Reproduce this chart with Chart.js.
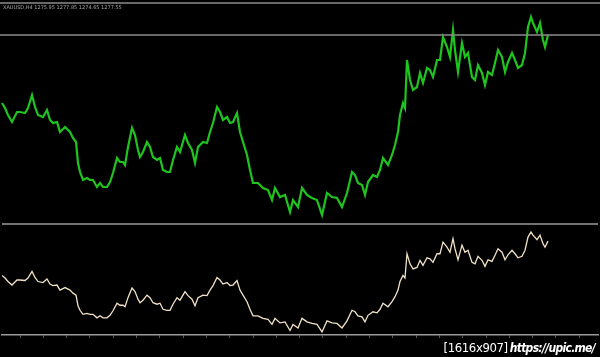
<!DOCTYPE html>
<html>
<head>
<meta charset="utf-8">
<script src="https://cdn.jsdelivr.net/npm/chart.js@4/dist/chart.umd.min.js"></script>
<style>
  html, body { margin: 0; padding: 0; background: #000; }
  #wrap { position: relative; width: 600px; height: 357px; background: #000; overflow: hidden; }
  #top { position: absolute; left: 0; top: 0; }
  #bottom { position: absolute; left: 0; top: 222px; }
  .hdr { position: absolute; left: 3px; top: 4px; font: 5px "DejaVu Sans", sans-serif; color: #a8a8a8; white-space: nowrap; }
  .mark { position: absolute; right: 4px; bottom: 2px; background: #000; color: #fff; padding: 0 1px; white-space: nowrap; line-height: 15px; }
  .mark .a { font: 13px "DejaVu Sans Condensed", "DejaVu Sans", sans-serif; letter-spacing: -0.4px; }
  .mark .b { font: italic bold 12px "DejaVu Sans Condensed", "DejaVu Sans", sans-serif; letter-spacing: -0.7px; margin-left: 2px; }
</style>
</head>
<body>
<div id="wrap">
  <canvas id="top" width="600" height="224"></canvas>
  <canvas id="bottom" width="600" height="135"></canvas>
  <div class="hdr">XAUUSD,H4 1275.95 1277.85 1274.65 1277.55</div>
  <div class="mark"><span class="a">[1616x907]</span><span class="b">https://upic.me/</span></div>
</div>
<script>
// bar number (time axis) and closing price
const barNo = [2, 5, 8, 12, 17, 20, 25, 28, 32, 35, 38, 43, 47, 50, 53, 57, 60, 65, 70, 73, 76, 78, 80, 83, 87, 90, 93, 97, 100, 103,
  107, 110, 113, 117, 120, 123, 125, 128, 132, 135, 138, 140, 143, 147, 150, 153, 157, 160, 163, 167, 170, 173, 177, 180, 185, 188, 192, 195, 198, 203,
  207, 210, 213, 217, 220, 223, 227, 230, 233, 237, 240, 243, 247, 250, 253, 258, 263, 268, 272, 275, 280, 285, 290, 293, 298, 302, 307, 312, 317, 322,
  327, 332, 337, 342, 347, 352, 355, 358, 362, 365, 368, 373, 377, 380, 383, 388, 392, 395, 398, 400, 403, 405, 407, 410, 413, 417, 420, 423, 427, 430,
  433, 437, 440, 443, 447, 450, 453, 455, 458, 462, 465, 468, 472, 475, 478, 482, 485, 488, 492, 495, 498, 502, 505, 508, 512, 515, 518, 522, 525, 528,
  531, 533, 537, 540, 543, 545, 548];
const closes = [1297, 1292, 1285, 1278, 1288, 1288, 1287, 1292, 1305, 1293, 1285, 1283, 1290, 1280, 1277, 1278, 1268, 1273, 1268, 1262, 1258, 1237, 1228, 1220, 1222, 1220, 1220, 1213, 1217, 1213,
  1213, 1218, 1227, 1242, 1238, 1238, 1235, 1253, 1272, 1265, 1250, 1243, 1248, 1258, 1253, 1243, 1240, 1242, 1230, 1228, 1228, 1240, 1253, 1248, 1265, 1257, 1250, 1237, 1253, 1258,
  1257, 1268, 1277, 1293, 1288, 1280, 1283, 1277, 1278, 1287, 1268, 1258, 1245, 1230, 1217, 1217, 1212, 1210, 1200, 1212, 1203, 1205, 1188, 1200, 1193, 1212, 1205, 1202, 1200, 1185,
  1207, 1203, 1202, 1193, 1207, 1228, 1225, 1217, 1215, 1205, 1218, 1225, 1223, 1230, 1242, 1235, 1245, 1255, 1268, 1285, 1297, 1292, 1340, 1320, 1310, 1313, 1327, 1317, 1332, 1330,
  1323, 1340, 1340, 1363, 1353, 1343, 1370, 1350, 1328, 1357, 1343, 1347, 1323, 1320, 1335, 1327, 1315, 1328, 1325, 1337, 1350, 1343, 1328, 1338, 1347, 1340, 1332, 1335, 1347, 1373,
  1383, 1377, 1368, 1377, 1360, 1353, 1365];
const levelPrice = 1365;

const points = barNo.map((b, i) => ({ x: b, y: closes[i] }));

const topLines = {
  id: 'topLines',
  afterDraw(chart) {
    const c = chart.ctx, a = chart.chartArea;
    const yl = chart.scales.y.getPixelForValue(levelPrice);
    c.save();
    c.strokeStyle = '#8c8c8c';
    c.lineWidth = 1.5;
    c.beginPath();
    c.moveTo(0, a.top); c.lineTo(chart.width, a.top);
    c.moveTo(0, yl); c.lineTo(chart.width, yl);
    c.stroke();
    c.restore();
  }
};

const bottomLines = {
  id: 'bottomLines',
  afterDraw(chart) {
    const c = chart.ctx, a = chart.chartArea;
    c.save();
    c.strokeStyle = '#9a9a9a';
    c.lineWidth = 1.5;
    c.beginPath();
    c.moveTo(a.left, a.top); c.lineTo(a.right, a.top);
    c.stroke();
    c.restore();
  }
};

new Chart(document.getElementById('top'), {
  type: 'line',
  data: {
    datasets: [{
      data: points,
      borderColor: '#1fc41f',
      borderWidth: 2.2,
      pointRadius: 0,
      tension: 0
    }]
  },
  options: {
    responsive: false,
    animation: false,
    layout: { padding: { top: 3, bottom: 2, left: 0, right: 0 } },
    plugins: { legend: { display: false }, tooltip: { enabled: false } },
    scales: {
      x: { type: 'linear', min: 0, max: 600, display: false },
      y: { min: 1178, max: 1397, display: false }
    }
  },
  plugins: [topLines]
});

new Chart(document.getElementById('bottom'), {
  type: 'line',
  data: {
    datasets: [{
      data: points,
      borderColor: '#f2e2c8',
      borderWidth: 1.3,
      pointRadius: 0,
      tension: 0
    }]
  },
  options: {
    responsive: false,
    animation: false,
    layout: { padding: { top: 2, bottom: 19, left: 2, right: 2 } },
    plugins: { legend: { display: false }, tooltip: { enabled: false } },
    scales: {
      x: {
        type: 'linear', min: 2, max: 598,
        afterBuildTicks: (s) => {
          const t = [];
          for (let v = 20; v < 598; v += 23.3) t.push({ value: v });
          s.ticks = t;
        },
        ticks: { display: false },
        grid: { drawOnChartArea: false, tickLength: 3, color: '#5a5a5a', lineWidth: 1 },
        border: { color: '#9a9a9a', width: 1.5 }
      },
      y: { min: 1179, max: 1399, display: false }
    }
  },
  plugins: [bottomLines]
});
</script>
</body>
</html>
